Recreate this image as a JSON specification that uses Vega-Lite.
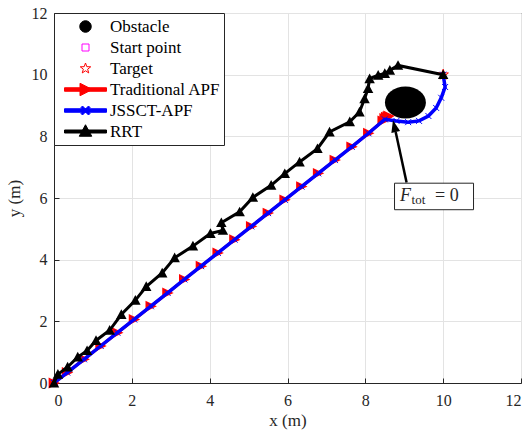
{
  "$schema": "https://vega.github.io/schema/vega-lite/v6.json",
  "width": 467,
  "height": 370,
  "autosize": "none",
  "padding": {"left": 54, "top": 13, "right": 11, "bottom": 49},
  "background": "white",
  "config": {
    "font": "Liberation Serif",
    "view": {"stroke": "#262626", "strokeWidth": 1},
    "axis": {
      "labelFont": "Liberation Serif", "labelFontSize": 16, "labelColor": "#262626",
      "titleFont": "Liberation Serif", "titleFontSize": 17, "titleFontWeight": "normal", "titleColor": "#262626",
      "domainColor": "#262626", "tickColor": "#262626", "tickSize": -5,
      "gridColor": "#e3e3e3", "gridWidth": 1
    },
    "legend": {
      "orient": "none", "legendX": 0, "legendY": 0,
      "fillColor": "white", "strokeColor": "#262626", "padding": 3,
      "symbolSize": 100, "symbolOffset": 20, "labelOffset": 16, "symbolOpacity": 1, "symbolStrokeWidth": 1,
      "labelFont": "Liberation Serif", "labelFontSize": 17, "labelColor": "black",
      "clipHeight": 21, "rowPadding": 0, "labelLimit": 300
    }
  },
  "datasets": {
    "obstacle": [{"x": 9.03, "y": 9.1}],
    "start": [{"x": 0, "y": 0}],
    "target": [{"x": 10, "y": 10}],
    "apf": [
      {"i": 0, "x": 0, "y": 0}, {"i": 1, "x": 0.34, "y": 0.34}, {"i": 2, "x": 0.77, "y": 0.77},
      {"i": 3, "x": 1.2, "y": 1.2}, {"i": 4, "x": 1.63, "y": 1.63}, {"i": 5, "x": 2.06, "y": 2.06},
      {"i": 6, "x": 2.49, "y": 2.49}, {"i": 7, "x": 2.92, "y": 2.92}, {"i": 8, "x": 3.35, "y": 3.36},
      {"i": 9, "x": 3.78, "y": 3.79}, {"i": 10, "x": 4.21, "y": 4.22}, {"i": 11, "x": 4.64, "y": 4.65},
      {"i": 12, "x": 5.07, "y": 5.08}, {"i": 13, "x": 5.5, "y": 5.51}, {"i": 14, "x": 5.93, "y": 5.94},
      {"i": 15, "x": 6.36, "y": 6.37}, {"i": 16, "x": 6.79, "y": 6.8}, {"i": 17, "x": 7.22, "y": 7.23},
      {"i": 18, "x": 7.65, "y": 7.66}, {"i": 19, "x": 8.08, "y": 8.1}, {"i": 20, "x": 8.45, "y": 8.5},
      {"i": 21, "x": 8.58, "y": 8.64}, {"i": 22, "x": 8.5, "y": 8.58}, {"i": 23, "x": 8.6, "y": 8.66},
      {"i": 24, "x": 8.54, "y": 8.62}
    ],
    "jssct": [
      {"i": 0, "x": 0, "y": 0}, {"i": 1, "x": 0.34, "y": 0.34}, {"i": 2, "x": 0.77, "y": 0.77},
      {"i": 3, "x": 1.2, "y": 1.2}, {"i": 4, "x": 1.63, "y": 1.63}, {"i": 5, "x": 2.06, "y": 2.06},
      {"i": 6, "x": 2.49, "y": 2.49}, {"i": 7, "x": 2.92, "y": 2.92}, {"i": 8, "x": 3.35, "y": 3.36},
      {"i": 9, "x": 3.78, "y": 3.79}, {"i": 10, "x": 4.21, "y": 4.22}, {"i": 11, "x": 4.64, "y": 4.65},
      {"i": 12, "x": 5.07, "y": 5.08}, {"i": 13, "x": 5.5, "y": 5.51}, {"i": 14, "x": 5.93, "y": 5.94},
      {"i": 15, "x": 6.36, "y": 6.37}, {"i": 16, "x": 6.79, "y": 6.8}, {"i": 17, "x": 7.22, "y": 7.23},
      {"i": 18, "x": 7.65, "y": 7.66}, {"i": 19, "x": 8.08, "y": 8.1}, {"i": 20, "x": 8.5, "y": 8.55},
      {"i": 21, "x": 8.8, "y": 8.5}, {"i": 22, "x": 9.1, "y": 8.46}, {"i": 23, "x": 9.38, "y": 8.5},
      {"i": 24, "x": 9.62, "y": 8.66}, {"i": 25, "x": 9.82, "y": 8.92}, {"i": 26, "x": 9.95, "y": 9.25},
      {"i": 27, "x": 10.05, "y": 9.6}, {"i": 28, "x": 10.0, "y": 10.0}
    ],
    "rrt": [
      {"i": 0, "x": 0, "y": 0}, {"i": 1, "x": 0.1, "y": 0.28}, {"i": 2, "x": 0.35, "y": 0.52},
      {"i": 3, "x": 0.61, "y": 0.84}, {"i": 4, "x": 0.85, "y": 1.05}, {"i": 5, "x": 1.08, "y": 1.38},
      {"i": 6, "x": 1.43, "y": 1.71}, {"i": 7, "x": 1.73, "y": 2.22}, {"i": 8, "x": 2.09, "y": 2.68},
      {"i": 9, "x": 2.37, "y": 3.13}, {"i": 10, "x": 2.78, "y": 3.57}, {"i": 11, "x": 3.1, "y": 4.06},
      {"i": 12, "x": 3.57, "y": 4.44}, {"i": 13, "x": 4.02, "y": 4.85}, {"i": 14, "x": 4.34, "y": 4.95},
      {"i": 15, "x": 4.3, "y": 5.2}, {"i": 16, "x": 4.77, "y": 5.55}, {"i": 17, "x": 5.11, "y": 6.02},
      {"i": 18, "x": 5.58, "y": 6.41}, {"i": 19, "x": 5.93, "y": 6.79}, {"i": 20, "x": 6.31, "y": 7.17},
      {"i": 21, "x": 6.77, "y": 7.6}, {"i": 22, "x": 7.08, "y": 8.14}, {"i": 23, "x": 7.6, "y": 8.47},
      {"i": 24, "x": 7.85, "y": 8.79}, {"i": 25, "x": 7.98, "y": 9.22}, {"i": 26, "x": 8.07, "y": 9.55},
      {"i": 27, "x": 8.11, "y": 9.87}, {"i": 28, "x": 8.33, "y": 9.98}, {"i": 29, "x": 8.5, "y": 10.04},
      {"i": 30, "x": 8.63, "y": 10.14}, {"i": 31, "x": 8.84, "y": 10.3}, {"i": 32, "x": 10.0, "y": 10.0}
    ],
    "arrow": [{"x": 9.06, "y": 6.5, "xe": 8.78, "ye": 8.14}],
    "head": [{"x": 8.71, "y": 8.52}],
    "note": [{"x": 9.74, "y": 6.05, "x1": 8.75, "x2": 10.78, "y1": 5.62, "y2": 6.48}],
    "legend": [
      {"series": "Obstacle"}, {"series": "Start point"}, {"series": "Target"},
      {"series": "Traditional APF"}, {"series": "JSSCT-APF"}, {"series": "RRT"}
    ]
  },
  "encoding": {
    "x": {"field": "x", "type": "quantitative",
      "scale": {"domain": [0, 12], "nice": false, "zero": false},
      "axis": {"values": [0, 2, 4, 6, 8, 10, 12], "title": "x (m)", "grid": true, "labelPadding": 14, "titlePadding": 4}},
    "y": {"field": "y", "type": "quantitative",
      "scale": {"domain": [0, 12], "nice": false, "zero": false},
      "axis": {"values": [0, 2, 4, 6, 8, 10, 12], "title": "y (m)", "grid": true, "labelPadding": 12, "titlePadding": 8}}
  },
  "layer": [
    {"data": {"name": "obstacle"},
     "mark": {"type": "point", "filled": true, "color": "black", "opacity": 1, "size": 1681,
       "shape": "M-1,0A1,0.78,0,1,0,1,0A1,0.78,0,1,0,-1,0Z"}},
    {"data": {"name": "start"},
     "mark": {"type": "point", "shape": "square", "color": "#ff00ff", "size": 50, "strokeWidth": 1, "opacity": 1}},
    {"data": {"name": "target"},
     "mark": {"type": "point", "color": "#ff0000", "size": 100, "strokeWidth": 1, "opacity": 1,
       "shape": "M0,-1.1L0.265,-0.364L1.046,-0.34L0.428,0.139L0.647,0.89L0,0.45L-0.647,0.89L-0.428,0.139L-1.046,-0.34L-0.265,-0.364Z"}},
    {"data": {"name": "apf"},
     "mark": {"type": "line", "color": "#ff0000", "strokeWidth": 3},
     "encoding": {"order": {"field": "i", "type": "quantitative"}}},
    {"data": {"name": "apf"},
     "mark": {"type": "point", "filled": true, "color": "#ff0000", "size": 144, "opacity": 1,
       "shape": "M-0.9,-0.9L1,0L-0.9,0.9Z"}},
    {"data": {"name": "jssct"},
     "mark": {"type": "line", "color": "#0000ff", "strokeWidth": 3.5},
     "encoding": {"order": {"field": "i", "type": "quantitative"}}},
    {"data": {"name": "jssct"},
     "mark": {"type": "point", "color": "#0000ff", "size": 36, "strokeWidth": 1, "opacity": 1,
       "shape": "M-1,-1L1,1M-1,1L1,-1"}},
    {"data": {"name": "rrt"},
     "mark": {"type": "line", "color": "black", "strokeWidth": 3},
     "encoding": {"order": {"field": "i", "type": "quantitative"}}},
    {"data": {"name": "rrt"},
     "mark": {"type": "point", "filled": true, "color": "black", "size": 110, "opacity": 1,
       "shape": "M0,-1L1,0.85L-1,0.85Z"}},
    {"data": {"name": "arrow"},
     "mark": {"type": "rule", "color": "black", "strokeWidth": 2.5},
     "encoding": {"x2": {"field": "xe"}, "y2": {"field": "ye"}}},
    {"data": {"name": "head"},
     "mark": {"type": "point", "filled": true, "color": "black", "size": 144, "opacity": 1, "angle": 346.5,
       "shape": "M0,0L-0.75,2L0.75,2Z"}},
    {"data": {"name": "note"},
     "mark": {"type": "rect", "fill": "white", "stroke": "#262626", "strokeWidth": 1},
     "encoding": {"x": {"field": "x1", "type": "quantitative"}, "x2": {"field": "x2"},
       "y": {"field": "y1", "type": "quantitative"}, "y2": {"field": "y2"}}},
    {"data": {"name": "note"},
     "mark": {"type": "text", "text": "F", "fontStyle": "italic", "fontSize": 18, "align": "left", "baseline": "alphabetic", "dx": -33, "dy": 4.5, "color": "#262626"}},
    {"data": {"name": "note"},
     "mark": {"type": "text", "text": "tot", "fontSize": 13, "align": "left", "baseline": "alphabetic", "dx": -21.5, "dy": 7.5, "color": "#262626"}},
    {"data": {"name": "note"},
     "mark": {"type": "text", "text": "= 0", "fontSize": 18, "align": "left", "baseline": "alphabetic", "dx": 2, "dy": 4.5, "color": "#262626"}},
    {"data": {"name": "legend"},
     "mark": {"type": "point", "opacity": 0},
     "encoding": {
       "x": {"datum": 6, "type": "quantitative"},
       "y": {"datum": 6, "type": "quantitative"},
       "shape": {"field": "series", "type": "nominal", "legend": {"title": null},
         "scale": {"domain": ["Obstacle", "Start point", "Target", "Traditional APF", "JSSCT-APF", "RRT"],
           "range": [
             "M-1.15,0A1.15,1.15,0,1,0,1.15,0A1.15,1.15,0,1,0,-1.15,0Z",
             "M-0.7,-0.7H0.7V0.7H-0.7Z",
             "M0,-1.1L0.265,-0.364L1.046,-0.34L0.428,0.139L0.647,0.89L0,0.45L-0.647,0.89L-0.428,0.139L-1.046,-0.34L-0.265,-0.364Z",
             "M-4.2,-0.35H4.2V0.35H-4.2ZM-1.1,-1.25L1.35,0L-1.1,1.25Z",
             "M-4.2,-0.35H4.2V0.35H-4.2ZM0,-0.3L0.6,-0.9L0.9,-0.6L0.3,0L0.9,0.6L0.6,0.9L0,0.3L-0.6,0.9L-0.9,0.6L-0.3,0L-0.9,-0.6L-0.6,-0.9Z",
             "M-4.2,-0.3H4.2V0.3H-4.2ZM0,-1.35L1.25,0.95L-1.25,0.95Z"
           ]}},
       "stroke": {"field": "series", "type": "nominal", "legend": {"title": null},
         "scale": {"domain": ["Obstacle", "Start point", "Target", "Traditional APF", "JSSCT-APF", "RRT"],
           "range": ["black", "#ff00ff", "#ff0000", "#ff0000", "#0000ff", "black"]}},
       "fill": {"field": "series", "type": "nominal", "legend": {"title": null},
         "scale": {"domain": ["Obstacle", "Start point", "Target", "Traditional APF", "JSSCT-APF", "RRT"],
           "range": ["black", "transparent", "transparent", "#ff0000", "#0000ff", "black"]}}
     }}
  ]
}
